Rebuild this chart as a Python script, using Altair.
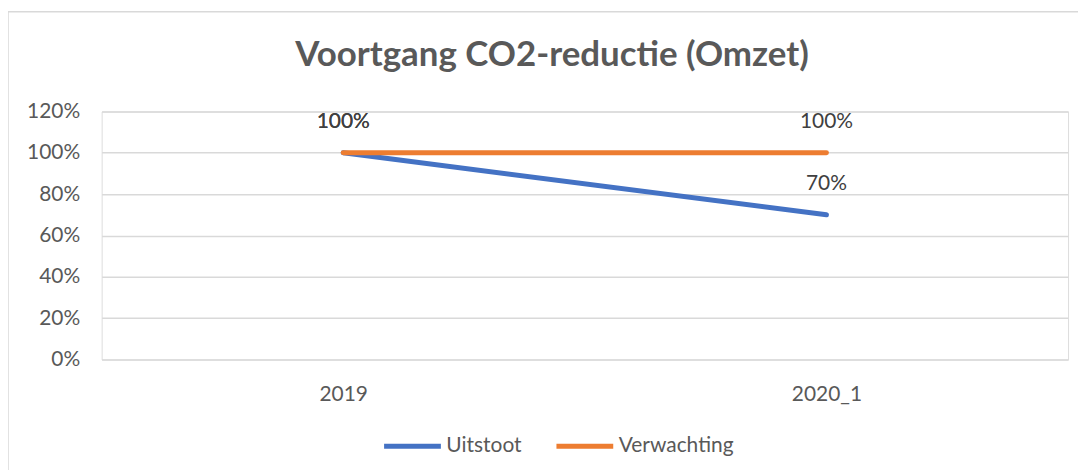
import altair as alt
import pandas as pd

categories = ["2019", "2020_1"]
uitstoot = [1.0, 0.7]
verwachting = [1.0, 1.0]
series_names = ["Uitstoot", "Verwachting"]
series_colors = ["#4472C4", "#ED7D31"]
y_ticks = [0, 0.2, 0.4, 0.6, 0.8, 1.0, 1.2]

rows = []
for i, c in enumerate(categories):
    rows.append({"jaar": c, "serie": "Uitstoot", "waarde": uitstoot[i], "ord": 0})
    rows.append({"jaar": c, "serie": "Verwachting", "waarde": verwachting[i], "ord": 1})
df = pd.DataFrame(rows)

FONT = "Lato"
GREY = "#595959"

x_enc = alt.X("jaar:N", sort=categories, title=None,
              scale=alt.Scale(type="point", padding=0.5),
              axis=alt.Axis(labelAngle=0, labelFontSize=21, labelColor=GREY, labelFont=FONT,
                            ticks=False, domain=False, grid=False, labelPadding=24))
y_enc = alt.Y("waarde:Q", title=None,
              scale=alt.Scale(domain=[0, 1.2], nice=False),
              axis=alt.Axis(values=y_ticks, format=".0%", labelFontSize=21, labelColor=GREY,
                            labelFont=FONT, ticks=False, domain=False, grid=True,
                            gridColor="#d9d9d9", gridWidth=1.5, labelPadding=22))

color_enc = alt.Color("serie:N",
                      scale=alt.Scale(domain=series_names, range=series_colors),
                      legend=alt.Legend(title=None, orient="none", legendX=281, legendY=305,
                                        direction="horizontal", columns=2,
                                        symbolType="stroke", symbolSize=3249,
                                        symbolStrokeWidth=5, labelFontSize=21,
                                        labelFont=FONT, labelColor=GREY,
                                        labelOffset=3, columnPadding=24))

border = alt.Chart(pd.DataFrame({"a": [0]})).mark_rect(
    fill=None, stroke="#d9d9d9", strokeWidth=1.5, clip=False
).encode(x=alt.value(-94), x2=alt.value(990), y=alt.value(-100), y2=alt.value(372))

lines = alt.Chart(df).mark_line(strokeWidth=5, strokeCap="round").encode(
    x=x_enc, y=y_enc, color=color_enc, order=alt.Order("ord:Q")
)

labels = alt.Chart(df).mark_text(dy=-31, fontSize=21, font=FONT, color="#404040").encode(
    x=alt.X("jaar:N", sort=categories),
    y=alt.Y("waarde:Q"),
    text=alt.Text("waarde:Q", format=".0%"),
)

chart = alt.layer(border, lines, labels).properties(
    width=970, height=249,
    autosize=alt.AutoSizeParams(type="none"),
    padding={"left": 94, "top": 103, "right": 10, "bottom": 110},
    title=alt.Title("Voortgang CO2-reductie (Omzet)", fontSize=35, font=FONT, fontWeight="bold",
                    color=GREY, anchor="middle", dx=-33, offset=-97, baseline="bottom"),
).configure_view(stroke=None).configure(background="white")

chart.save("out.html", embed_options={"renderer": "svg", "actions": False})
